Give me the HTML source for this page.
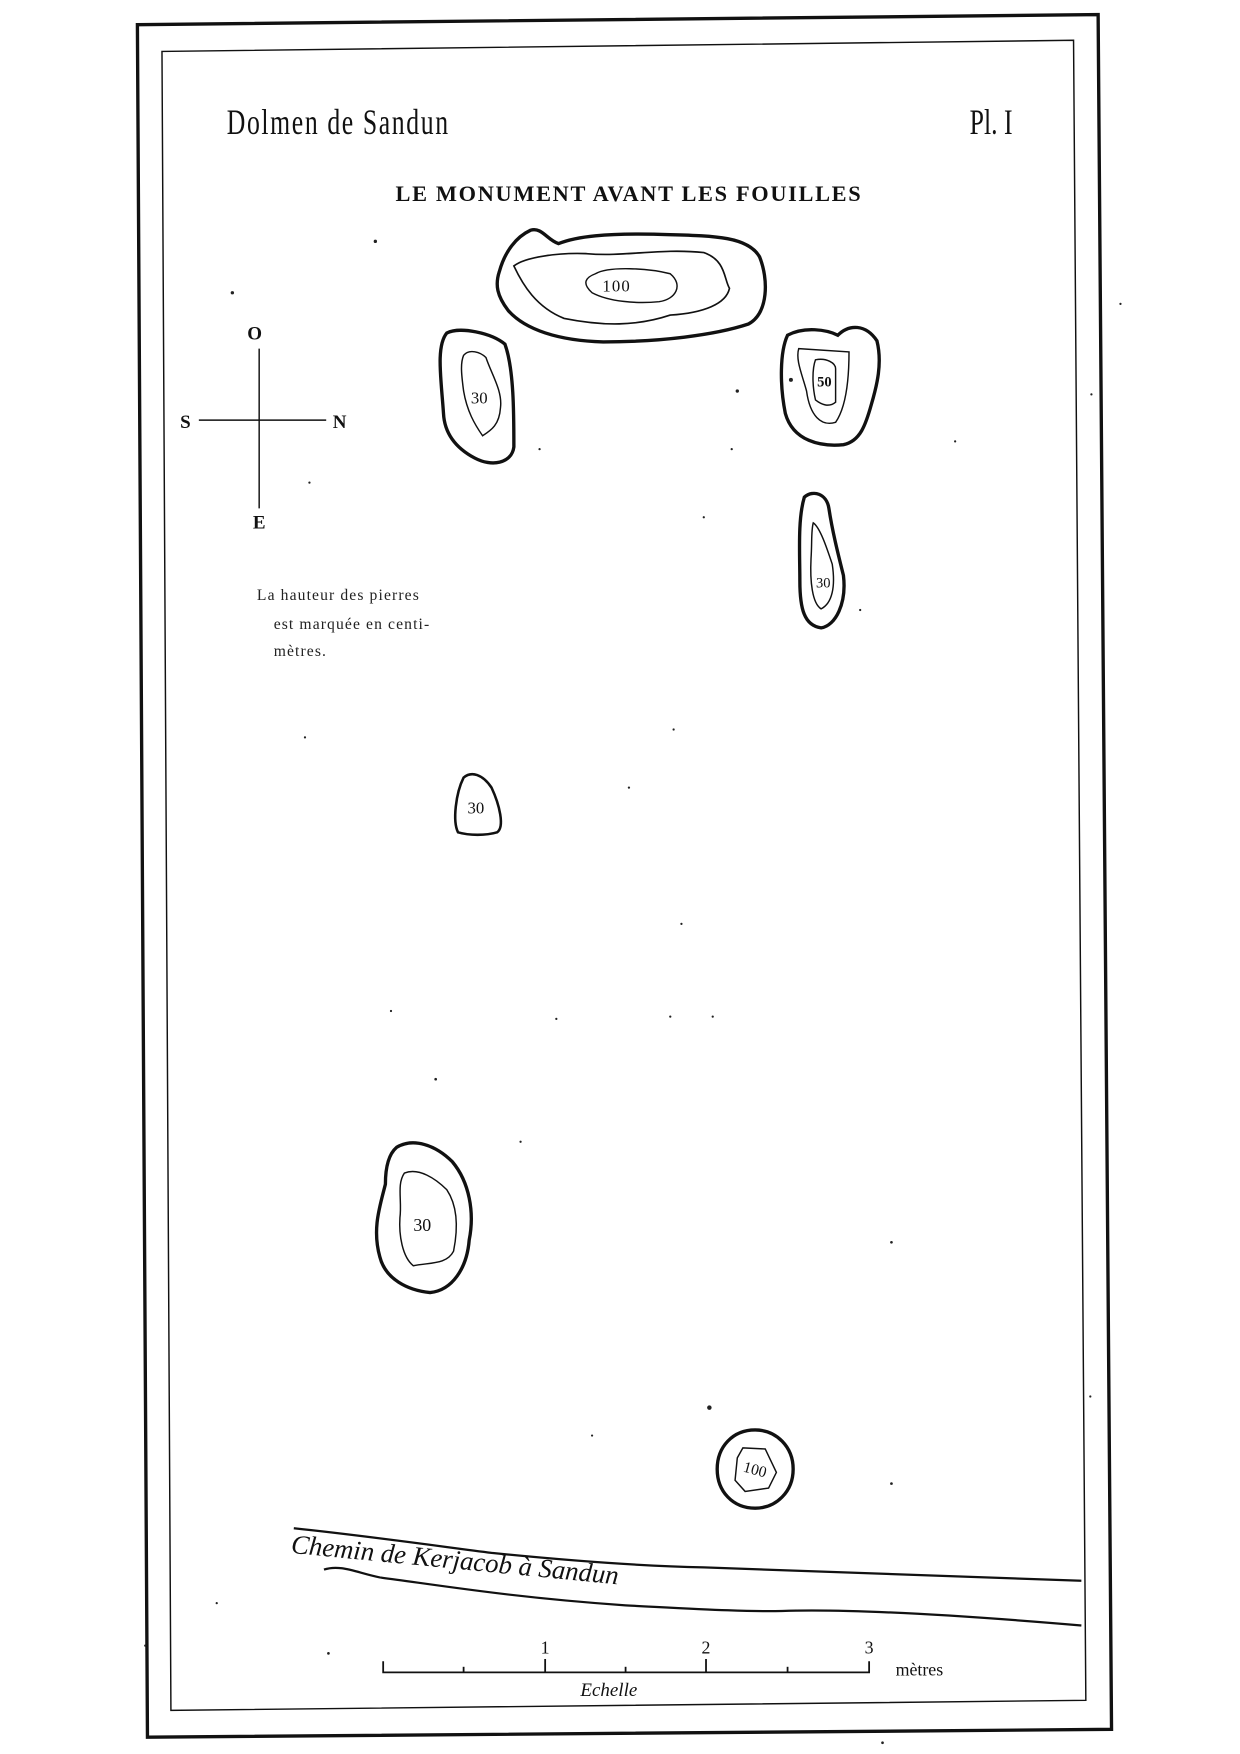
<!DOCTYPE html>
<html><head><meta charset="utf-8"><style>html,body{margin:0;padding:0;background:#fff}svg{display:block}</style></head>
<body>
<svg width="1240" height="1754" viewBox="0 0 1110 1570" xmlns="http://www.w3.org/2000/svg">
<rect x="0" y="0" width="1110" height="1570" fill="#fff"/>
<g fill="none" stroke="#111" stroke-linejoin="miter">
<polygon points="123,22 983,13 995,1548 132,1555" stroke-width="3"/>
<polygon points="145,46 961,36 972,1522 153,1531" stroke-width="1.3"/>
</g>
<g font-family="'Liberation Serif',serif" fill="#111">
<text x="0" y="120" font-size="32" transform="translate(203,0) scale(0.72,1)" style="letter-spacing:2px">Dolmen  de  Sandun</text>
<text x="0" y="120" font-size="32" transform="translate(868,0) scale(0.72,1)">Pl.  I</text>
</g>
<text x="563" y="180" font-family="'Liberation Serif',serif" font-size="20" font-weight="bold" text-anchor="middle" fill="#111" style="letter-spacing:1.5px">LE MONUMENT AVANT LES FOUILLES</text>
<g stroke="#111" stroke-width="1.3"><line x1="232" y1="312" x2="232" y2="455"/><line x1="178" y1="376" x2="292" y2="376"/></g>
<g font-family="'Liberation Serif',serif" font-size="17" font-weight="bold" fill="#111" text-anchor="middle">
<text x="228" y="304">O</text><text x="166" y="383">S</text><text x="304" y="383">N</text><text x="232" y="473">E</text></g>
<g font-family="'Liberation Serif',serif" font-size="14" fill="#222" style="letter-spacing:1px">
<text x="230" y="537">La hauteur des pierres</text><text x="245" y="563">est marquée en centi-</text><text x="245" y="587">mètres.</text></g>
<g fill="none" stroke="#111">
<path d="M447,243 C452,225 462,212 475,206 C485,203 490,215 500,218 C515,212 540,208 600,210 C640,211 670,212 680,230 C688,250 688,280 670,290 C640,300 590,306 540,306 C500,305 470,295 455,278 C445,265 443,255 447,243Z" stroke-width="3"/>
<path d="M460,238 C470,230 500,226 525,227 C560,230 590,222 630,226 C650,233 648,250 653,258 C650,272 630,280 600,282 C570,292 540,292 505,285 C480,275 468,255 460,238Z" stroke-width="1.5"/>
<path d="M533,245 C545,238 580,240 600,245 C612,255 605,268 590,270 C570,272 545,270 530,262 C520,253 525,248 533,245Z" stroke-width="1.3"/>
<path d="M400,298 C412,292 440,298 452,308 C460,330 460,370 460,400 C458,415 440,418 425,410 C410,402 398,390 397,370 C395,340 390,310 400,298Z" stroke-width="3"/>
<path d="M415,318 C420,312 430,315 435,320 C440,335 450,350 448,365 C447,380 440,385 432,390 C425,380 418,368 415,350 C413,335 412,325 415,318Z" stroke-width="1.3"/>
<path d="M705,300 C720,292 740,295 750,300 C760,290 775,290 785,305 C790,325 785,345 780,362 C775,380 770,395 755,398 C735,400 710,395 703,370 C698,345 698,315 705,300Z" stroke-width="3"/>
<path d="M715,312 L760,315 C760,340 757,365 748,378 C735,382 725,372 722,350 C718,335 712,322 715,312Z" stroke-width="1.3"/>
<path d="M730,322 C740,320 748,325 748,330 L748,360 C742,365 735,362 730,358 C727,345 727,330 730,322Z" stroke-width="1.3"/>
<path d="M720,445 C728,438 740,442 742,455 C745,475 750,495 755,515 C758,540 748,560 735,562 C720,560 716,545 716,520 C716,495 714,465 720,445Z" stroke-width="3"/>
<path d="M728,468 C734,472 740,490 745,505 C748,525 745,540 735,545 C727,540 725,520 726,500 C727,485 726,475 728,468Z" stroke-width="1.3"/>
<path d="M415,696 C422,690 432,693 440,705 C447,720 452,740 445,745 C435,748 420,748 410,745 C405,735 408,710 415,696Z" stroke-width="2.3"/>
<path d="M355,1027 C370,1018 390,1025 405,1040 C420,1058 425,1085 420,1110 C418,1135 405,1155 385,1157 C365,1155 345,1145 340,1125 C333,1100 340,1080 345,1060 C345,1045 348,1033 355,1027Z" stroke-width="3"/>
<path d="M362,1050 C375,1045 390,1055 400,1065 C410,1080 410,1100 406,1120 C400,1132 385,1130 370,1133 C360,1125 357,1105 358,1090 C360,1075 355,1060 362,1050Z" stroke-width="1.3"/>
<path d="M676,1280 C695,1280 710,1295 710,1315 C710,1335 695,1350 676,1350 C656,1350 642,1335 642,1315 C642,1295 656,1280 676,1280Z" stroke-width="3"/>
<path d="M665,1296 L685,1297 L695,1318 L688,1332 L667,1335 L658,1325 L660,1305Z" stroke-width="1.3"/>
</g>
<g font-family="'Liberation Serif',serif" font-size="15" fill="#111" text-anchor="middle">
<text x="552" y="261" style="letter-spacing:1px">100</text>
<text x="429" y="361">30</text>
<text x="738" y="346" font-size="13" font-weight="bold">50</text>
<text x="737" y="526" font-size="13">30</text>
<text x="426" y="728">30</text>
<text x="378" y="1102" font-size="16">30</text>
<text x="676" y="1320" font-size="14" transform="rotate(15 676 1315)">100</text>
</g>
<g fill="none" stroke="#111" stroke-width="2">
<path d="M263,1368 C330,1375 400,1385 440,1390 C520,1398 580,1402 630,1403 C700,1406 800,1410 968,1415"/>
<path d="M290,1405 C305,1400 320,1408 340,1412 C400,1420 460,1430 560,1437 C620,1440 670,1443 700,1442 C760,1440 850,1445 968,1455"/>
</g>
<text x="260" y="1390" font-family="'Liberation Serif',serif" font-style="italic" font-size="24" fill="#111" transform="rotate(5.5 260 1390)">Chemin de Kerjacob  à  Sandun</text>
<g stroke="#111" stroke-width="1.6" fill="none">
<path d="M343,1487 L343,1497 L778,1497 L778,1487"/>
<line x1="415" y1="1492" x2="415" y2="1497"/><line x1="488" y1="1485" x2="488" y2="1497"/>
<line x1="560" y1="1492" x2="560" y2="1497"/><line x1="632" y1="1485" x2="632" y2="1497"/>
<line x1="705" y1="1492" x2="705" y2="1497"/>
</g>
<g font-family="'Liberation Serif',serif" font-size="16" fill="#111" text-anchor="middle">
<text x="488" y="1480">1</text><text x="632" y="1480">2</text><text x="778" y="1480">3</text>
<text x="823" y="1500">mètres</text>
<text x="545" y="1518" font-style="italic" font-size="17">Echelle</text>
</g>
<g fill="#222">
<circle cx="336" cy="216" r="1.5"/><circle cx="208" cy="262" r="1.5"/><circle cx="635" cy="1260" r="2"/>
<circle cx="660" cy="350" r="1.5"/><circle cx="708" cy="340" r="1.8"/><circle cx="483" cy="402" r="1"/>
<circle cx="855" cy="395" r="1"/><circle cx="630" cy="463" r="1"/><circle cx="563" cy="705" r="1"/>
<circle cx="603" cy="653" r="1"/><circle cx="390" cy="966" r="1.2"/><circle cx="798" cy="1112" r="1.2"/>
<circle cx="798" cy="1328" r="1.2"/><circle cx="294" cy="1480" r="1.2"/><circle cx="194" cy="1435" r="1"/>
<circle cx="350" cy="905" r="1"/><circle cx="610" cy="827" r="1"/><circle cx="466" cy="1022" r="1"/>
<circle cx="770" cy="546" r="1"/><circle cx="277" cy="432" r="1"/><circle cx="655" cy="402" r="1"/>
<circle cx="1003" cy="272" r="1"/><circle cx="977" cy="353" r="1"/><circle cx="976" cy="1250" r="1"/>
<circle cx="130" cy="1473" r="1"/><circle cx="600" cy="910" r="1"/><circle cx="638" cy="910" r="1"/>
<circle cx="498" cy="912" r="1"/><circle cx="273" cy="660" r="1"/><circle cx="530" cy="1285" r="1"/>
<circle cx="790" cy="1560" r="1.2"/>
</g>
</svg>
</body></html>
